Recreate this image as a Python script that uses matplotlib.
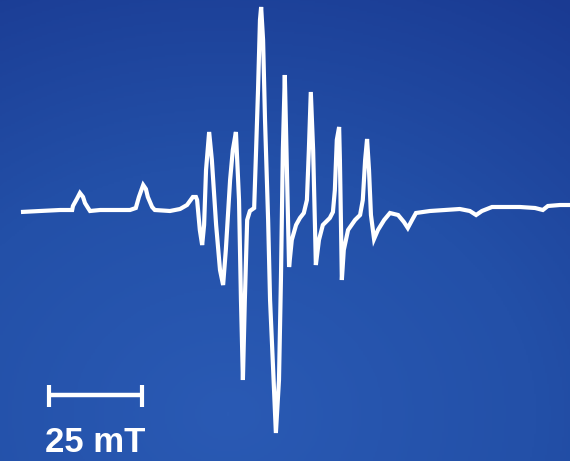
import numpy as np
import matplotlib
matplotlib.use('Agg')
from matplotlib import pyplot as plt
from matplotlib.colors import LinearSegmentedColormap

# EPR spectrum, field in mT, signal in arbitrary units
field = [285.4, 290.3, 295.5, 298.6, 298.8, 299.8, 300.6, 301.4, 301.9, 302.7,
         303.2, 305.8, 313.5, 315.0, 315.8, 316.9, 317.6, 318.1, 319.2, 319.9,
         323.8, 326.4, 328.2, 329.7, 330.5, 330.8, 331.5, 332.1, 332.6, 333.1,
         333.9, 334.6, 335.7, 336.7, 337.5, 338.2, 339.3, 340.0, 340.8, 341.6,
         342.1, 342.6, 343.1, 343.7, 344.4, 345.5, 346.0, 346.5, 347.0, 347.3,
         347.8, 348.3, 349.1, 349.6, 350.4, 351.1, 351.9, 352.4, 352.9, 353.4,
         354.0, 354.5, 355.2, 356.3, 357.3, 358.3, 359.1, 359.6, 360.1, 360.7,
         361.2, 361.4, 362.2, 363.2, 365.0, 365.8, 366.3, 366.8, 367.4, 367.6,
         367.9, 368.1, 368.6, 369.7, 371.5, 372.8, 373.5, 374.1, 374.6, 375.1,
         375.6, 376.4, 377.4, 379.0, 380.5, 382.6, 384.1, 385.1, 386.2, 387.2,
         390.8, 398.5, 401.1, 402.7, 404.2, 406.8, 414.0, 417.9, 419.9, 421.2,
         424.3, 426.9]
signal = [-1, 0, 1, 1, 5, 12, 18, 14, 8, 3,
          0, 1, 1, 3, 14, 26, 22, 14, 4, 1,
          0, 2, 6, 14, 14, 11, -19, -34, -14, 41,
          79, 51, -14, -59, -74, -39, 31, 61, 79, 11,
          -89, -169, -89, -9, 0, 3, 61, 121, 191, 204,
          171, 91, -9, -89, -159, -222, -169, -69, 61, 136,
          31, -56, -29, -14, -7, -2, 11, 61, 119, 61,
          -19, -54, -29, -14, -7, -1, 21, 71, 84, 51,
          -19, -69, -39, -19, -9, -4, 11, 51, 72, 41,
          -4, -28, -19, -9, -2, -4, -11, -17, -9, -2,
          0, 2, 0, -4, 0, 4, 4, 3, 1, 5,
          6, 6]

scale_start = 292.1
scale_len = 25
scale_label = '25 mT'

xmin, xmax = 280, 426.9
ymin, ymax = -250, 211

fig = plt.figure(figsize=(5.70, 4.61), dpi=100)
ax = fig.add_axes([0, 0, 1, 1])

# radial blue background, lighter toward lower centre
gx, gy = np.meshgrid(np.linspace(0, 1, 300), np.linspace(0, 1, 240))
r = np.sqrt((gx - 0.40) ** 2 + (gy - 0.10) ** 2)
r = r / r.max()
bg_cmap = LinearSegmentedColormap.from_list('bg', ['#2a5ab4', '#2350a8', '#1a3a92'])
ax.imshow(r, cmap=bg_cmap, extent=[xmin, xmax, ymin, ymax], origin='lower',
          aspect='auto', zorder=0)

ax.plot(field, signal, color='white', lw=3.0, solid_joinstyle='miter',
        solid_capstyle='butt', zorder=2)

# scale bar
sb_y = -184
ax.plot([scale_start, scale_start + scale_len], [sb_y, sb_y], color='white',
        lw=3.2, solid_capstyle='butt', zorder=2)
for xe in (scale_start + 0.4, scale_start + scale_len - 0.4):
    ax.plot([xe, xe], [-174, -196], color='white', lw=3.0,
            solid_capstyle='butt', zorder=2)
ax.text(scale_start + scale_len / 2, -241, scale_label, color='white',
        fontsize=25, fontweight='bold', family='Liberation Sans',
        ha='center', va='baseline', zorder=3)

ax.set_xlim(xmin, xmax)
ax.set_ylim(ymin, ymax)
ax.axis('off')

plt.savefig('out.png', dpi=100)
